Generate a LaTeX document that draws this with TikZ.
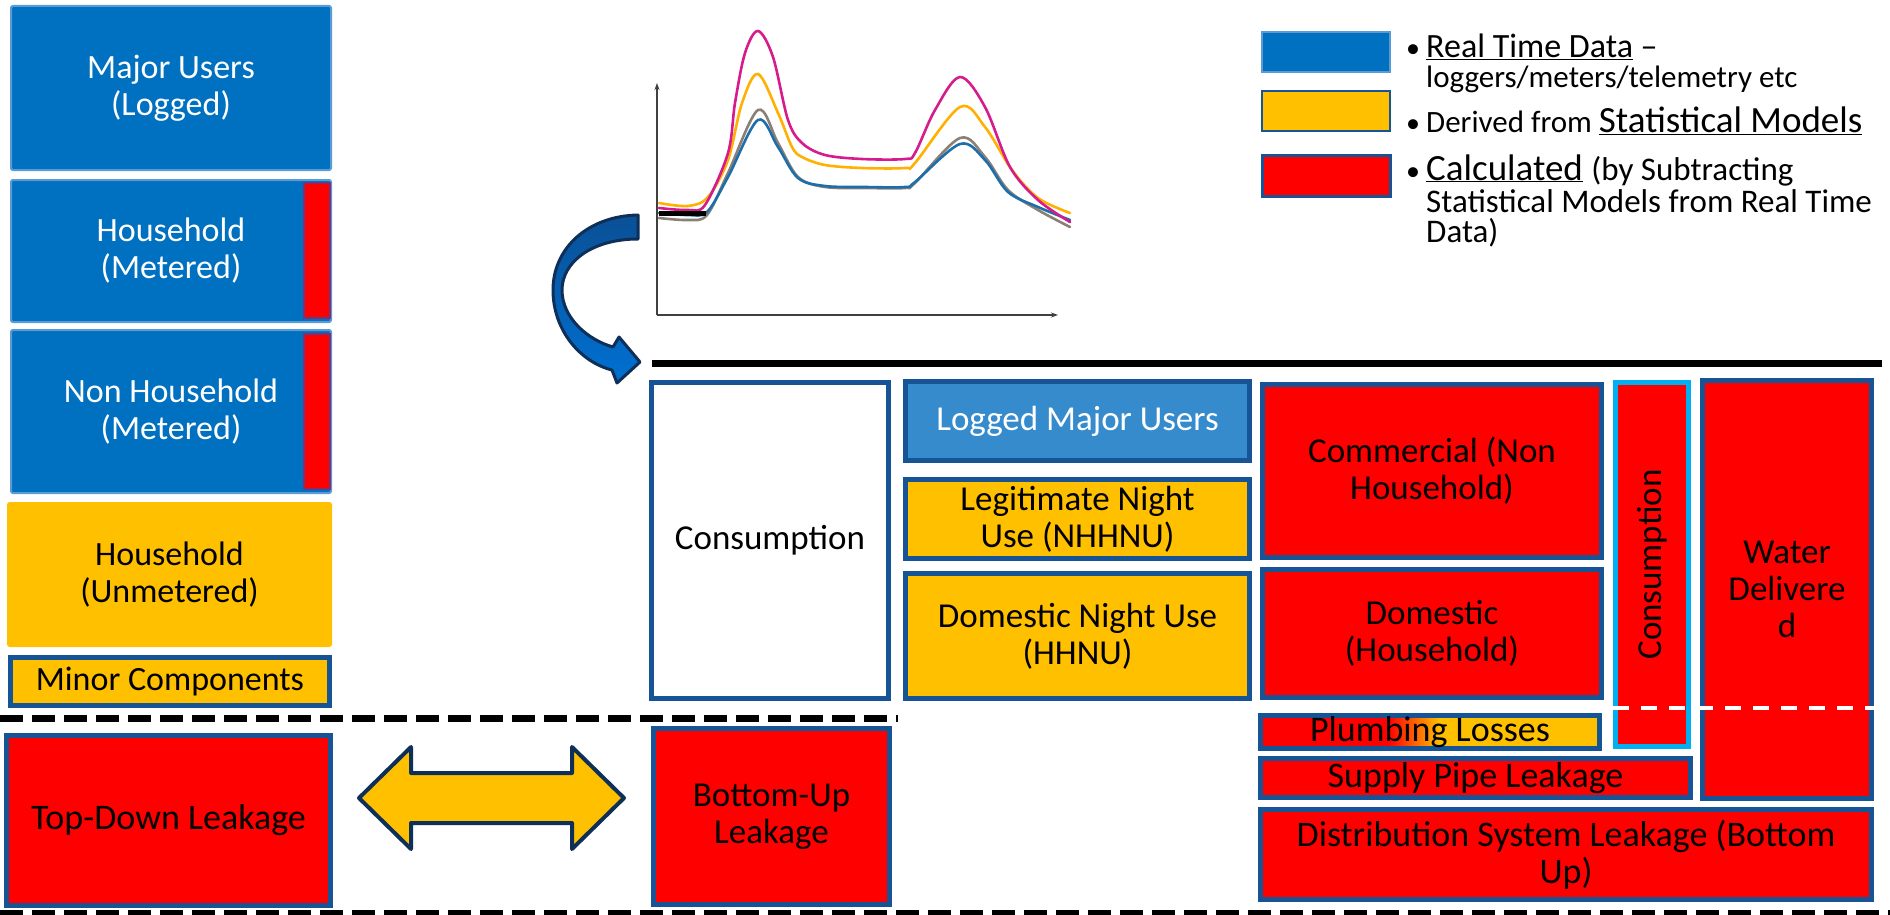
\documentclass[tikz,border=0pt]{standalone}
\usepackage{fontspec}
\setmainfont{Carlito}
\usetikzlibrary{arrows.meta}
\definecolor{mblue}{RGB}{0,112,192}
\definecolor{lblue}{RGB}{91,155,213}
\definecolor{dblue}{RGB}{22,84,150}
\definecolor{myellow}{RGB}{255,192,0}
\definecolor{mred}{RGB}{255,0,0}
\definecolor{cyanb}{RGB}{0,176,240}
\definecolor{navy}{RGB}{14,47,88}
\definecolor{logblue}{RGB}{54,139,205}
\definecolor{stripb}{RGB}{120,50,120}
\definecolor{cmag}{RGB}{214,28,140}
\definecolor{cyel}{RGB}{255,176,0}
\definecolor{cgray}{RGB}{140,128,118}
\definecolor{cblue}{RGB}{30,110,170}
\definecolor{arrtop}{RGB}{10,80,150}
\definecolor{arrbot}{RGB}{0,112,210}
\newcommand\fsz[2]{\fontsize{#1}{#2}\selectfont}
\begin{document}
\begin{tikzpicture}[x=1pt,y=-1pt,
  bx/.style={rectangle, inner sep=0pt, align=center, font=\fsz{35}{37}},
  leftblue/.style={bx, fill=mblue, draw=lblue, line width=2, rounded corners=2, text=white, font=\fsz{34}{37}},
  leftyel/.style={bx, fill=myellow, draw=myellow, line width=2, rounded corners=2, font=\fsz{34}{37}},
  strip/.style={rectangle, inner sep=0pt, fill=mred, draw=stripb, line width=2},
  redbox/.style={bx, fill=mred, draw=dblue, line width=5.5},
  yelbox/.style={bx, fill=myellow, draw=dblue, line width=5.5},
  whitebox/.style={bx, fill=white, draw=dblue, line width=5},
  logbox/.style={bx, fill=logblue, draw=dblue, line width=5.5, text=white},
  cyanbox/.style={bx, fill=mred, draw=cyanb, line width=5},
  legtext/.style={anchor=base west, inner sep=0pt},
  dashline/.style={line width=7, dash pattern=on 23pt off 9pt},
  axisline/.style={line width=1.3, draw=black!75, -{Stealth[length=7pt,width=5pt]}},
  curve/.style={line width=2.6, smooth, tension=0.55, line cap=round}
]
\useasboundingbox (0,0) rectangle (1890,915);

% ---------- left column ----------
\node[leftblue, minimum width=320, minimum height=164] (majU) at (171,88) {Major Users\\(Logged)};
\node[leftblue, minimum width=320, minimum height=142] (hhM) at (171,251) {Household\\(Metered)};
\node[strip, minimum width=26, minimum height=135] (s1) at (317,250.5) {};
\node[leftblue, minimum width=320, minimum height=163] (nhhM) at (171,411.5) {Non Household\\(Metered)};
\node[strip, minimum width=26, minimum height=155] (s2) at (317,411.5) {};
\node[leftyel, minimum width=323, minimum height=143] (hhU) at (169.5,574.5) {Household\\(Unmetered)};
\node[yelbox, minimum width=319, minimum height=48, font=\fsz{34}{37}] (minor) at (170,681.5) {Minor Components};
\node[redbox, minimum width=324, minimum height=170, font=\fsz{36}{37}] (topdown) at (168.5,820.5) {Top-Down Leakage};

% ---------- dashed separators ----------
\coordinate (d1a) at (0,718);
\coordinate (d1b) at (898,718);
\draw[dashline] (d1a) -- (d1b);
\coordinate (d2a) at (0,913);
\coordinate (d2b) at (1890,913);
\draw[dashline, line width=6] (d2a) -- (d2b);

% ---------- chart ----------
\coordinate (o) at (657,315);
\coordinate (ytop) at (657,83);
\coordinate (xend) at (1058,315);
\draw[axisline] (o) -- (ytop);
\draw[axisline] (o) -- (xend);
\draw[curve, cgray] plot coordinates {(659,218) (688,220) (707,215) (728,173) (758,110) (778,143) (798,177) (825,187) (865,188) (905,188) (915,183) (960,138) (985,157) (1008,190) (1038,210) (1070,227)};
\draw[curve, cblue] plot coordinates {(659,213) (688,215) (707,212) (728,177) (758,120) (778,147) (798,178) (825,186) (865,187) (905,187) (915,182) (960,144) (985,160) (1008,192) (1038,207) (1070,220)};
\draw[curve, cyel] plot coordinates {(659,203) (688,206) (708,197) (728,160) (742,103) (758,74) (778,113) (792,147) (802,157) (825,165) (862,168) (905,168) (915,163) (960,107) (985,127) (1012,170) (1038,198) (1070,213)};
\draw[curve, cmag] plot coordinates {(659,208) (688,210) (705,205) (728,153) (735,103) (745,53) (758,31) (773,57) (788,120) (802,143) (825,155) (862,159) (905,159) (915,153) (935,110) (960,77) (985,107) (1010,167) (1038,200) (1070,222)};
\coordinate (bb1) at (659,213);
\coordinate (bb2) at (706,213);
\draw[line width=5] (bb1) -- (bb2);

% ---------- curved arrow ----------
\path[draw=navy, line width=3, line join=round, top color=arrtop, bottom color=arrbot]
  (638,215) .. controls (588,216) and (553,248) .. (553,290)
  .. controls (553,330) and (580,362) .. (612,370)
  -- (617,383) -- (640,362) -- (619,337) -- (613,347)
  .. controls (588,340) and (562,318) .. (562,290)
  .. controls (562,262) and (592,239) .. (638,239) -- cycle;

% ---------- thick line ----------
\coordinate (tl1) at (652,363);
\coordinate (tl2) at (1882,363);
\draw[line width=7] (tl1) -- (tl2);

% ---------- middle ----------
\node[whitebox, minimum width=237, minimum height=316] (cons) at (770,540.5) {Consumption};
\node[logbox, minimum width=344, minimum height=79] (logged) at (1077.5,421) {Logged Major Users};
\node[yelbox, minimum width=344, minimum height=79] (legit) at (1077.5,519) {Legitimate Night\\Use (NHHNU)};
\node[yelbox, minimum width=344, minimum height=125] (domn) at (1077.5,636) {Domestic Night Use\\(HHNU)};
\node[redbox, minimum width=236, minimum height=176] (bottomup) at (771.5,816.5) {Bottom-Up\\Leakage};

% ---------- double arrow ----------
\draw[navy, line width=4, line join=round, fill=myellow]
  (359,798) -- (411,747) -- (411,773) -- (572,773) -- (572,747) -- (624,798)
  -- (572,849) -- (572,823) -- (411,823) -- (411,849) -- cycle;

% ---------- right ----------
\node[redbox, minimum width=339, minimum height=173] (comm) at (1432,471) {Commercial (Non\\Household)};
\node[redbox, minimum width=339, minimum height=128] (dom) at (1432,633.5) {Domestic\\(Household)};
\node[cyanbox, rotate=90, minimum width=364, minimum height=73] (consv) at (1652,564.5) {Consumption};
\node[redbox, minimum width=169, minimum height=418] (water) at (1787,589.5) {Water\\Delivere\\d};
\fill[mred] (1260,715) rectangle (1388,749);
\shade[left color=mred, right color=myellow] (1388,715) rectangle (1440,749);
\fill[myellow] (1440,715) rectangle (1600,749);
\node[bx, draw=dblue, line width=5, minimum width=339, minimum height=33, font=\fsz{36}{37}] (plumb) at (1430,732) {Plumbing Losses};
\node[redbox, line width=5, minimum width=430, minimum height=39, font=\fsz{36}{37}] (supply) at (1475.5,778) {Supply Pipe Leakage};
\node[redbox, minimum width=611, minimum height=90, font=\fsz{36}{37}] (dist) at (1566,854.5) {Distribution System Leakage (Bottom\\Up)};
\coordinate (wd1) at (1613,708);
\coordinate (wd2) at (1874,708);
\draw[white, line width=3.5, dash pattern=on 16pt off 12pt] (wd1) -- (wd2);

% ---------- legend ----------
\node[rectangle, inner sep=0pt, fill=mblue, draw=lblue, line width=1.5, minimum width=128, minimum height=40] (lgB) at (1326,52) {};
\node[rectangle, inner sep=0pt, fill=myellow, draw=dblue, line width=2.5, minimum width=128, minimum height=40] (lgY) at (1326,111) {};
\node[rectangle, inner sep=0pt, fill=mred, draw=dblue, line width=3, minimum width=128, minimum height=40] (lgR) at (1326,176) {};
\node[legtext, font=\fsz{28}{30}] (b1) at (1406,58) {•};
\node[legtext, font=\fsz{28}{30}] (b2) at (1406,133) {•};
\node[legtext, font=\fsz{28}{30}] (b3) at (1406,180) {•};
\node[legtext, font=\fsz{34}{37}] (t1) at (1426,58) {\underline{Real Time Data} –};
\node[legtext, font=\fsz{31}{37}] (t2) at (1426,88) {loggers/meters/telemetry etc};
\node[legtext, font=\fsz{31}{37}] (t3) at (1426,133) {Derived from {\fsz{37}{40}\underline{Statistical Models}}};
\node[legtext, font=\fsz{37}{40}] (t4) at (1426,180) {\underline{Calculated} {\fsz{33}{37}(by Subtracting}};
\node[legtext, font=\fsz{33}{37}] (t5) at (1426,212) {Statistical Models from Real Time};
\node[legtext, font=\fsz{33}{37}] (t6) at (1426,242) {Data)};
\end{tikzpicture}
\end{document}
